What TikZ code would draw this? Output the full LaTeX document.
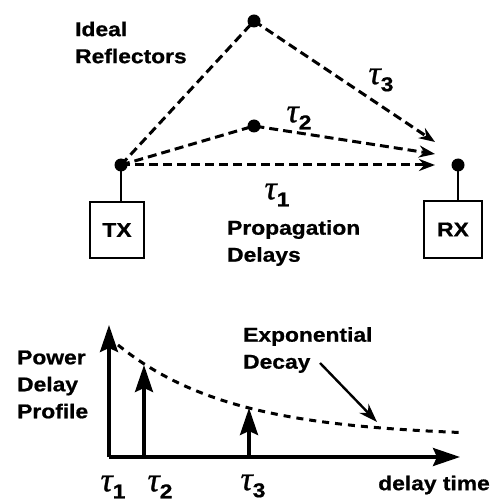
\documentclass[tikz,border=0pt]{standalone}
\usepackage{fontspec}
\newfontfamily\lab[FakeStretch=1.14,FakeBold=0.8]{Liberation Sans}
\newfontfamily\taufont[FakeBold=0.8]{Liberation Serif}
\usetikzlibrary{arrows.meta}
\newcommand\tlab[1]{{\fontsize{34pt}{34pt}\taufont\itshape τ}\raisebox{-7pt}{\lab\bfseries\fontsize{20pt}{20pt}\selectfont #1}}
\tikzset{
  txt/.style={font=\lab\bfseries\fontsize{20pt}{27pt}\selectfont, inner sep=0pt, align=left},
  dotnode/.style={circle, fill=black, inner sep=0pt, minimum size=13pt},
  box/.style={draw, line width=2pt, inner sep=0pt, font=\lab\bfseries\fontsize{20pt}{22pt}\selectfont},
  ant/.style={line width=2.2pt},
  ray/.style={line width=3pt, dash pattern=on 9pt off 5pt, -{Stealth[length=16pt,width=12pt]}},
  axisarr/.style={line width=3.4pt, -{Stealth[length=27pt,width=18pt,inset=4pt]}},
  decay/.style={line width=3pt, dash pattern=on 7pt off 6pt},
  pointer/.style={line width=2.4pt, -{Stealth[length=19pt,width=13pt]}},
  tl/.style={inner sep=0pt}
}
\begin{document}
\begin{tikzpicture}[x=1pt,y=-1pt]
\useasboundingbox (0,0) rectangle (493,502);
% top part
\coordinate (t) at (121,165);
\coordinate (r3) at (254,21);
\coordinate (r2) at (254,126);
\coordinate (rr) at (458,165);
\coordinate (e3) at (435,142);
\coordinate (e2) at (435,154);
\coordinate (e1) at (435,165);
\node[box, minimum width=54pt, minimum height=56pt] (tx) at (117,230) {TX};
\node[box, minimum width=58pt, minimum height=57pt] (rx) at (453,229.5) {RX};
\draw[ant] (t) -- (t |- tx.north);
\draw[ant] (rr) -- (rr |- rx.north);
\draw[ray] (t) -- (r3) -- (e3);
\draw[ray] (t) -- (r2) -- (e2);
\draw[ray] (t) -- (e1);
\node[dotnode] (txd) at (t) {};
\node[dotnode] (rd3) at (r3) {};
\node[dotnode] (rd2) at (r2) {};
\node[dotnode] (rxd) at (rr) {};
\node[txt, anchor=west] (ideal) at (75,42.5) {Ideal\\Reflectors};
\node[txt, anchor=west] (prop) at (227,243) {Propagation\\Delays};
\node[tl] (tau3) at (381,80) {\tlab{3}};
\node[tl] (tau2) at (299,118) {\tlab{2}};
\node[tl] (tau1) at (277,195) {\tlab{1}};
% bottom part
\coordinate (O) at (109,457);
\coordinate (ytop) at (109,325);
\coordinate (xend) at (460,457);
\coordinate (a2b) at (144,457);
\coordinate (a2t) at (144,365);
\coordinate (a3b) at (249,457);
\coordinate (a3t) at (249,408);
\draw[decay] plot[domain=118:463,samples=80,smooth] (\x,{457-20-99.6*exp(-(\x-109)/113.5)});
\draw[axisarr] (O) -- (ytop);
\draw[axisarr] (O) -- (xend);
\draw[axisarr] (a2b) -- (a2t);
\draw[axisarr] (a3b) -- (a3t);
\node[txt, anchor=west] (pdp) at (17,384.5) {Power\\Delay\\Profile};
\node[txt, anchor=west] (exd) at (243,350) {Exponential\\Decay};
\coordinate (p1) at (320,363);
\coordinate (p2) at (377,422);
\draw[pointer] (p1) -- (p2);
\node[tl] (b1) at (113,487) {\tlab{1}};
\node[tl] (b2) at (160,487) {\tlab{2}};
\node[tl] (b3) at (253,486) {\tlab{3}};
\node[txt, anchor=east] (dt) at (490,485) {delay time};
\end{tikzpicture}
\end{document}
